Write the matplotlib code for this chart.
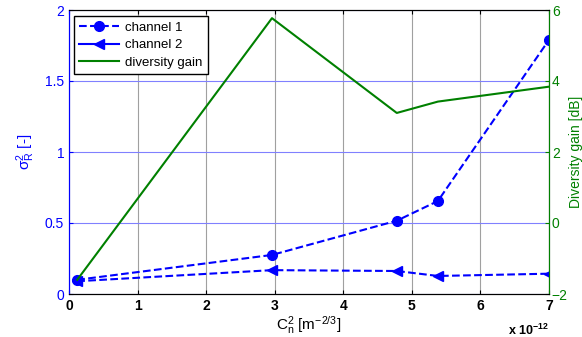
import numpy as np
import matplotlib.pyplot as plt
from matplotlib.lines import Line2D

plt.rcParams['font.family'] = ['Liberation Sans', 'DejaVu Sans']
plt.rcParams['mathtext.default'] = 'regular'

# ── データ ──
cn2 = [0.12, 2.96, 4.78, 5.38, 7.0]           # x 1e-12
ch1 = [0.10, 0.275, 0.516, 0.655, 1.79]
ch2 = [0.09, 0.168, 0.162, 0.127, 0.143]
gain = [-1.6, 5.77, 3.10, 3.42, 3.84]

blue = "#0000ff"
green = "#008000"

fig = plt.figure(figsize=(5.82, 3.37), dpi=100)
ax = fig.add_axes([69 / 582, 1 - 294 / 337, 480 / 582, 284 / 337])

ax.plot(cn2, ch1, "--o", color=blue, lw=1.5, ms=7)
ax.plot(cn2, ch2, "--<", color=blue, lw=1.5, ms=7)
ax.set_xlim(0, 7)
ax.set_ylim(0, 2)
ax.set_yticks([0, 0.5, 1, 1.5, 2])
ax.set_yticklabels(["0", "0.5", "1", "1.5", "2"])
ax.set_xticks(range(8))
ax.tick_params(direction="in", top=True, length=3, labelsize=10)
ax.tick_params(axis="y", colors=blue)
ax.spines["left"].set_color(blue)
for lab in ax.get_xticklabels():
    lab.set_fontweight("bold")
ax.grid(axis="x", color="#a0a0a0", lw=0.8)
ax.grid(axis="y", color="#8080ff", lw=0.8)
ax.set_ylabel(r"$\sigma^2_R$ [-]", color=blue, fontsize=11, labelpad=6)
ax.set_xlabel(r"C$_n^2$ [m$^{-2/3}$]", fontsize=11, labelpad=1)
ax.text(1.0, -0.10, r"x 10$^{-12}$", transform=ax.transAxes, ha="right",
        va="top", fontsize=9, fontweight="bold")

ax2 = ax.twinx()
ax2.plot(cn2, gain, color=green, lw=1.5)
ax2.set_ylim(-2, 6)
ax2.set_yticks([-2, 0, 2, 4, 6])
ax2.tick_params(direction="in", length=3, colors=green, labelsize=10, pad=2)
ax2.spines["right"].set_color(green)
ax2.spines["left"].set_color(blue)
ax2.set_ylabel("Diversity gain [dB]", color=green, fontsize=10, labelpad=1)

handles = [
    Line2D([], [], color=blue, ls="--", marker="o", ms=7, lw=1.5),
    Line2D([], [], color=blue, ls="-", marker="<", ms=7, lw=1.5),
    Line2D([], [], color=green, lw=1.5),
]
leg = ax2.legend(handles, ["channel 1", "channel 2", "diversity gain"],
                 loc="upper left", bbox_to_anchor=(0.01, 0.978), fontsize=9.5,
                 fancybox=False, framealpha=1, edgecolor="black",
                 handlelength=3, handletextpad=0.5, borderpad=0.4,
                 labelspacing=0.4, borderaxespad=0)
leg.get_frame().set_linewidth(1.0)

fig.savefig("out.png", dpi=100)
